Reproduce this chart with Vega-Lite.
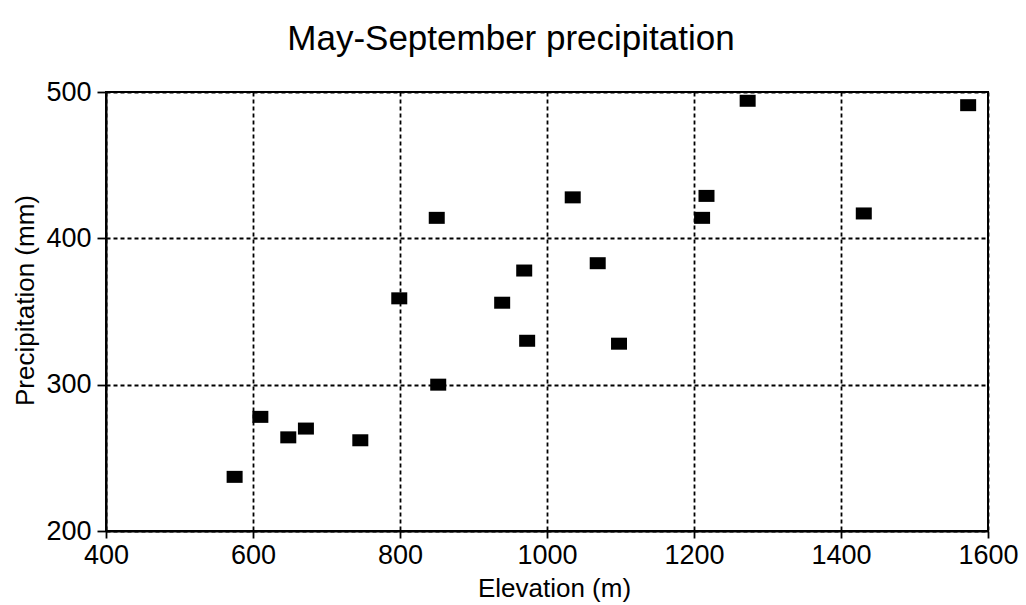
{
  "$schema": "https://vega.github.io/schema/vega-lite/v6.json",
  "autosize": {"type": "none"},
  "width": 882,
  "height": 439,
  "padding": {"left": 106, "top": 92, "right": 38, "bottom": 74},
  "background": "white",
  "config": {
    "font": "Liberation Sans",
    "view": {"stroke": "black", "strokeWidth": 2},
    "axis": {
      "grid": true,
      "gridColor": "black",
      "gridDash": [4, 3],
      "gridWidth": 1.8,
      "gridOpacity": 1,
      "domainColor": "black",
      "domainWidth": 2,
      "tickColor": "black",
      "tickWidth": 1.8,
      "labelColor": "black",
      "titleColor": "black",
      "labelFont": "Liberation Sans",
      "titleFont": "Liberation Sans",
      "labelFontSize": 27,
      "titleFontSize": 26,
      "titleFontWeight": "normal",
      "labelOverlap": false,
      "labelFlush": false,
      "format": "d"
    }
  },
  "title": {
    "text": "May-September precipitation",
    "font": "Liberation Sans",
    "fontSize": 35,
    "fontWeight": "normal",
    "color": "black",
    "anchor": "middle",
    "frame": "group",
    "baseline": "alphabetic",
    "offset": 28,
    "dx": -36,
    "dy": 35
  },
  "data": {
    "values": [
      {"elevation": 575, "precip": 237},
      {"elevation": 610, "precip": 278},
      {"elevation": 648, "precip": 264},
      {"elevation": 672, "precip": 270},
      {"elevation": 746, "precip": 262},
      {"elevation": 799, "precip": 359},
      {"elevation": 850, "precip": 414},
      {"elevation": 852, "precip": 300},
      {"elevation": 939, "precip": 356},
      {"elevation": 969, "precip": 378},
      {"elevation": 973, "precip": 330},
      {"elevation": 1035, "precip": 428},
      {"elevation": 1069, "precip": 383},
      {"elevation": 1098, "precip": 328},
      {"elevation": 1211, "precip": 414},
      {"elevation": 1217, "precip": 429},
      {"elevation": 1273, "precip": 494},
      {"elevation": 1431, "precip": 417},
      {"elevation": 1573, "precip": 491}
    ]
  },
  "mark": {
    "type": "point",
    "shape": "M-1,-0.75H1V0.75H-1Z",
    "size": 256,
    "filled": true,
    "color": "black",
    "opacity": 1,
    "strokeWidth": 0
  },
  "encoding": {
    "x": {
      "field": "elevation",
      "type": "quantitative",
      "scale": {"domain": [400, 1600], "nice": false, "zero": false},
      "axis": {
        "title": "Elevation (m)",
        "values": [400, 600, 800, 1000, 1200, 1400, 1600],
        "tickSize": 7,
        "labelPadding": 4,
        "titleX": 448,
        "titleY": 65,
        "titleBaseline": "alphabetic",
        "titleAlign": "center"
      }
    },
    "y": {
      "field": "precip",
      "type": "quantitative",
      "scale": {"domain": [200, 500], "nice": false, "zero": false},
      "axis": {
        "title": "Precipitation (mm)",
        "values": [200, 300, 400, 500],
        "tickSize": 9,
        "labelPadding": 6,
        "titleAngle": -90,
        "titleX": -81,
        "titleY": 208,
        "titleBaseline": "middle",
        "titleAlign": "center"
      }
    }
  }
}
